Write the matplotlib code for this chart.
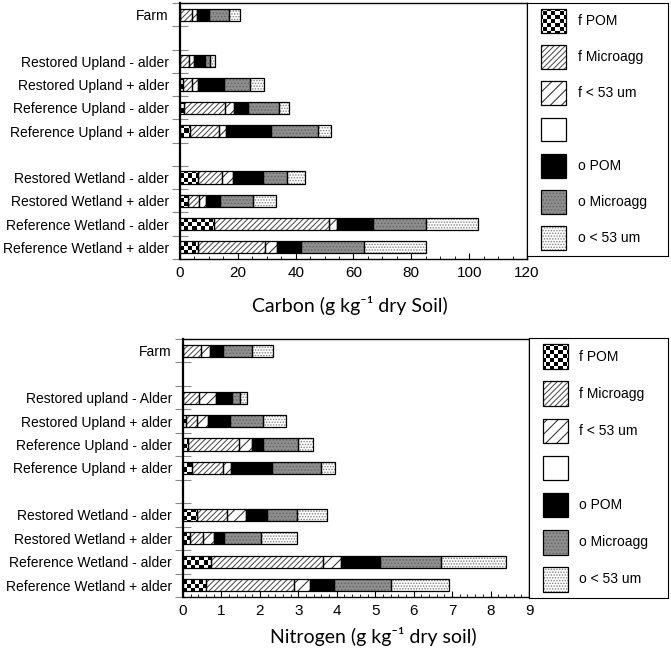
import numpy as np
import matplotlib
matplotlib.use("Agg")
import matplotlib.pyplot as plt
from matplotlib.patches import Rectangle
from matplotlib.ticker import MultipleLocator

plt.rcParams['font.family'] = ['Liberation Sans', 'DejaVu Sans']
plt.rcParams['hatch.linewidth'] = 0.7

# sites per block, a blank row goes between blocks
groups = [1, 4, 4]
carbon_sites = ["Farm",
                "Restored Upland - alder", "Restored Upland + alder",
                "Reference Upland - alder", "Reference Upland + alder",
                "Restored Wetland - alder", "Restored Wetland + alder",
                "Reference Wetland - alder", "Reference Wetland + alder"]
nitrogen_sites = ["Farm",
                  "Restored upland - Alder", "Restored Upland + alder",
                  "Reference Upland - alder", "Reference Upland + alder",
                  "Restored Wetland - alder", "Restored Wetland + alder",
                  "Reference Wetland - alder", "Reference Wetland + alder"]

fractions = ["f POM", "f Microagg", "f < 53 um", "", "o POM", "o Microagg", "o < 53 um"]

# carbon, g/kg
c_fpom   = [0.0, 0.0, 1.2, 1.5, 3.5, 6.2, 2.9, 11.8, 6.1]
c_fmicro = [4.1, 3.2, 2.9, 13.9, 10.1, 8.3, 3.7, 39.8, 23.4]
c_f53    = [1.7, 1.8, 2.1, 3.3, 2.3, 3.7, 2.5, 2.7, 4.0]
c_blank  = [0, 0, 0, 0, 0, 0, 0, 0, 0]
c_opom   = [4.1, 3.5, 8.9, 4.8, 15.7, 10.5, 4.8, 12.3, 8.3]
c_omicro = [6.9, 1.9, 9.2, 10.6, 16.0, 8.3, 11.5, 18.5, 21.7]
c_o53    = [3.8, 1.8, 4.8, 3.7, 4.6, 6.3, 7.7, 17.9, 21.6]

# nitrogen, g/kg
n_fpom   = [0.0, 0.0, 0.08, 0.12, 0.24, 0.37, 0.17, 0.74, 0.59]
n_fmicro = [0.48, 0.42, 0.29, 1.34, 0.80, 0.78, 0.35, 2.89, 2.30]
n_f53    = [0.23, 0.43, 0.28, 0.34, 0.22, 0.48, 0.29, 0.47, 0.41]
n_blank  = [0, 0, 0, 0, 0, 0, 0, 0, 0]
n_opom   = [0.32, 0.43, 0.57, 0.27, 1.06, 0.56, 0.25, 1.03, 0.63]
n_omicro = [0.77, 0.20, 0.85, 0.93, 1.26, 0.77, 0.98, 1.58, 1.48]
n_o53    = [0.55, 0.19, 0.60, 0.39, 0.38, 0.78, 0.92, 1.70, 1.50]

carbon = [c_fpom, c_fmicro, c_f53, c_blank, c_opom, c_omicro, c_o53]
nitrogen = [n_fpom, n_fmicro, n_f53, n_blank, n_opom, n_omicro, n_o53]

# face, hatch, hatch colour ; None face = checkerboard
styles = [(None, None, 'k'),
          ('white', '//////', '#444444'),
          ('white', '///', '#222222'),
          ('white', None, 'k'),
          ('black', None, 'k'),
          ('#8e8e8e', '.....', '#666666'),
          ('white', '......', '#808080')]


def slots(groups):
    pos = []
    s = 0
    for n in groups:
        pos.extend(range(s, s + n))
        s += n + 1
    return np.array(pos) + 0.5, s - 1


def checker(ax, patch, cell=4):
    bb = ax.get_window_extent()
    nx, ny = int(bb.width / cell), int(bb.height / cell)
    arr = np.add.outer(np.arange(ny), np.arange(nx)) % 2
    x0, x1 = ax.get_xlim()
    y0, y1 = ax.get_ylim()
    im = ax.imshow(arr, cmap='gray', extent=(x0, x1, y0, y1), aspect='auto',
                   interpolation='nearest', zorder=1.5)
    im.set_clip_path(patch)
    ax.set_xlim(x0, x1)
    ax.set_ylim(y0, y1)


def stacked(ax, sites, data, xmax, major, minor):
    y, nslot = slots(groups)
    ax.set_xlim(0, xmax)
    ax.set_ylim(nslot, 0)
    left = np.zeros(len(sites))
    for vals, (face, hatch, hc) in zip(data, styles):
        vals = np.array(vals, dtype=float)
        ax.barh(y, vals, left=left, height=0.52,
                color='white' if face is None else face,
                hatch=hatch, edgecolor=hc, linewidth=0, zorder=1)
        outline = ax.barh(y, vals, left=left, height=0.52, facecolor='none',
                          edgecolor='black', linewidth=0.9, zorder=2)
        if face is None:
            for b, v in zip(outline, vals):
                if v > 0:
                    checker(ax, b)
        left += vals
    ax.set_yticks(y)
    ax.set_yticklabels(sites, fontsize=10)
    ax.set_yticks(np.arange(nslot + 1), minor=True)
    ax.tick_params(axis='y', which='major', length=0, pad=8)
    ax.tick_params(axis='y', which='minor', direction='inout', length=11,
                   color='#888888', width=0.8)
    ax.xaxis.set_major_locator(MultipleLocator(major))
    ax.xaxis.set_minor_locator(MultipleLocator(minor))
    ax.tick_params(axis='x', which='major', direction='in', length=4, labelsize=11, pad=5)
    ax.tick_params(axis='x', which='minor', direction='in', length=2)
    for sp in ax.spines.values():
        sp.set_linewidth(1.0)
    ax.spines['left'].set_linewidth(1.6)


def legend_box(ax):
    ax.set_xlim(0, 1)
    ax.set_ylim(len(fractions), 0)
    ax.set_xticks([])
    ax.set_yticks([])
    for i, (name, (face, hatch, hc)) in enumerate(zip(fractions, styles)):
        fill = Rectangle((0.10, i + 0.17), 0.18, 0.66, facecolor='white' if face is None else face,
                         hatch=hatch, edgecolor=hc, linewidth=0, zorder=1)
        edge = Rectangle((0.10, i + 0.17), 0.18, 0.66, facecolor='none',
                         edgecolor='black', linewidth=0.9, zorder=2)
        ax.add_patch(fill)
        ax.add_patch(edge)
        if face is None:
            checker(ax, edge)
        ax.text(0.36, i + 0.5, name, va='center', ha='left', fontsize=10)


fig = plt.figure(figsize=(6.71, 6.55), dpi=100)

label_font = ['Lato', 'DejaVu Sans']

ax1 = fig.add_axes([180 / 671, 1 - 259 / 655, 347 / 671, 256 / 655])
stacked(ax1, carbon_sites, carbon, 120, 20, 5)
ax1.set_xlabel('Carbon (g kg\u207b\u00b9 dry Soil)', family=label_font, fontsize=14)
ax1.xaxis.set_label_coords(0.49, -0.145)

leg1 = fig.add_axes([527 / 671, 1 - 256 / 655, 141 / 671, 253 / 655])
legend_box(leg1)

ax2 = fig.add_axes([183 / 671, 1 - 597 / 655, 346 / 671, 258 / 655])
stacked(ax2, nitrogen_sites, nitrogen, 9, 1, 0.2)
ax2.set_xlabel('Nitrogen (g kg\u207b\u00b9 dry soil)', family=label_font, fontsize=14)
ax2.xaxis.set_label_coords(0.55, -0.115)

leg2 = fig.add_axes([529 / 671, 1 - 598 / 655, 139 / 671, 260 / 655])
legend_box(leg2)

fig.savefig('out.png', dpi=100)
